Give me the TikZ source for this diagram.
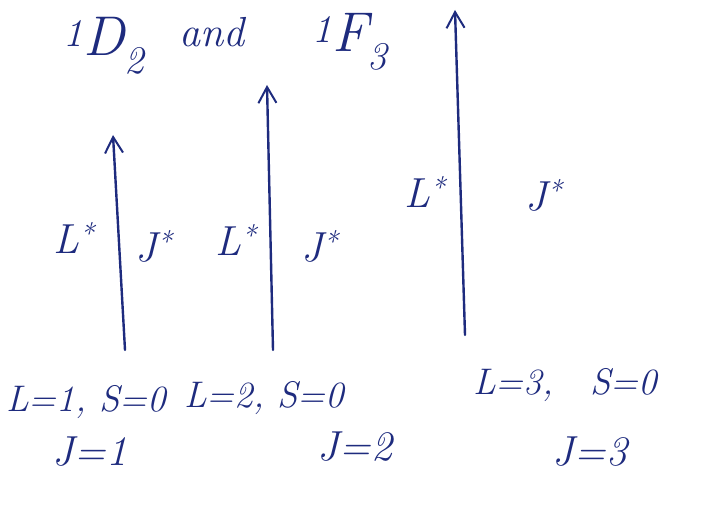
\documentclass[tikz,border=0pt]{standalone}
\usepackage{fontspec}
\usepackage{tikz}
\usetikzlibrary{arrows.meta}
\definecolor{inkBlue}{HTML}{1E2B7E}

\begin{document}
\begin{tikzpicture}[x=1pt,y=-1pt,
  ink/.style={inkBlue,line width=2.4pt,line cap=round,
    -{Straight Barb[length=16pt,width=18pt,line width=2pt]}},
  hand/.style={inkBlue,inner sep=0pt,font=\fontsize{37}{42}\selectfont\itshape},
  big/.style={hand,font=\fontsize{42}{48}\selectfont\itshape},
  title/.style={inkBlue,inner sep=0pt,font=\fontsize{56}{60}\selectfont\itshape}]
\useasboundingbox (0,0) rectangle (706,518);
% term symbols
\node[title] (termD) at (104,46) {\textsuperscript{1}D\textsubscript{2}};
\node[big] (andword) at (212,32) {and};
\node[title] (termF) at (350,42) {\textsuperscript{1}F\textsubscript{3}};
% coupling arrows
\coordinate (lowA) at (125,350);
\coordinate (topA) at (113,135);
\coordinate (lowB) at (273,350);
\coordinate (topB) at (267,85);
\coordinate (lowC) at (465,335);
\coordinate (topC) at (455,10);
\draw[ink] (lowA) -- (topA);
\draw[ink] (lowB) -- (topB);
\draw[ink] (lowC) -- (topC);
% vector labels
\node[big] (LA) at (74,238) {L\textsuperscript{*}};
\node[big] (JA) at (154,246) {J\textsuperscript{*}};
\node[big] (LB) at (236,240) {L\textsuperscript{*}};
\node[big] (JB) at (320,246) {J\textsuperscript{*}};
\node[big] (LC) at (425,192) {L\textsuperscript{*}};
\node[big] (JC) at (544,195) {J\textsuperscript{*}};
% quantum numbers
\node[hand] (qnA) at (86,402) {L=1, S=0};
\node[big] (jA) at (90,452) {J=1};
\node[hand] (qnB) at (264,398) {L=2, S=0};
\node[big] (jB) at (355,447) {J=2};
\node[hand] (qnC) at (565,385) {L=3,\quad S=0};
\node[big] (jC) at (590,452) {J=3};
\end{tikzpicture}
\end{document}
